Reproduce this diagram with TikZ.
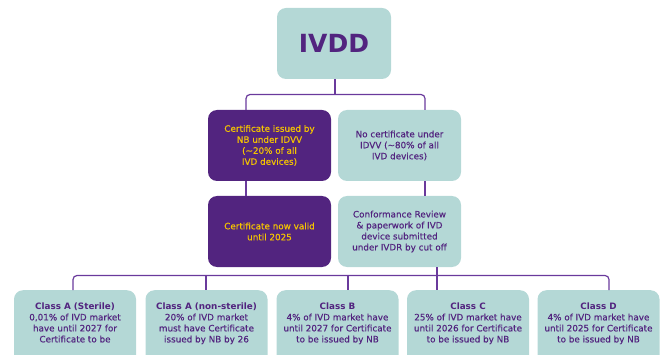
\documentclass[tikz,border=0pt]{standalone}
\usepackage{fontspec}
\setmainfont{DejaVu Sans}
\newfontfamily\heavier[FakeBold=0.35]{DejaVu Sans}
\definecolor{ppl}{HTML}{52247F}
\definecolor{teal}{HTML}{B4D8D6}
\definecolor{gold}{HTML}{F5C400}
\definecolor{lnc}{HTML}{6A3A9C}
\begin{document}
\begin{tikzpicture}[x=1pt,y=-1pt,
  box/.style={rounded corners=9pt, minimum width=123pt, minimum height=71pt, inner sep=2pt, align=center,
    font=\heavier\fontsize{8.8}{11}\selectfont},
  pbox/.style={box, fill=ppl, text=gold},
  tbox/.style={box, fill=teal, text=ppl},
  cbox/.style={rounded corners=9pt, fill=teal, text=ppl, inner xsep=1pt, inner ysep=12.5pt, anchor=north,
    font=\heavier\fontsize{8.8}{11}\selectfont},
  conn/.style={draw=lnc, line width=1.2pt}]
\useasboundingbox (0,0) rectangle (663,355);
\clip (0,0) rectangle (663,355);

\node[tbox, minimum width=114pt, font=\fontsize{25}{30}\selectfont\bfseries] (ivdd) at (334,43.5) {IVDD};

\node[pbox] (n1) at (269.5,145.5) {Certificate issued by\\NB under IDVV\\(\textasciitilde20\% of all\\IVD devices)};
\node[tbox] (n2) at (399.5,145.5) {No certificate under\\IDVV (\textasciitilde80\% of all\\IVD devices)};
\node[pbox] (n3) at (269.5,231.5) {Certificate now valid\\until 2025};
\node[tbox] (n4) at (399.5,231.5) {Conformance Review\\\& paperwork of IVD\\device submitted\\under IVDR by cut off};

\newcommand{\cbtext}[4]{\parbox[c][62pt][t]{120pt}{\centering{\fontspec{DejaVu Sans Bold}#1}\\#2\\#3\\#4}}
\node[cbox] (c1) at (75,290) {\cbtext{Class A (Sterile)}{0,01\% of IVD market}{have until 2027 for}{Certificate to be}};
\node[cbox] (c2) at (206.5,290) {\cbtext{Class A (non-sterile)}{20\% of IVD market}{must have Certificate}{issued by NB by 26}};
\node[cbox] (c3) at (337.5,290) {\cbtext{Class B}{4\% of IVD market have}{until 2027 for Certificate}{to be issued by NB}};
\node[cbox] (c4) at (468,290) {\cbtext{Class C}{25\% of IVD market have}{until 2026 for Certificate}{to be issued by NB}};
\node[cbox] (c5) at (598.5,290) {\cbtext{Class D}{4\% of IVD market have}{until 2025 for Certificate}{to be issued by NB}};

% top connectors
\coordinate (t0) at (335,94.5);
\coordinate (t1) at (246,94.5);
\coordinate (t2) at (425,94.5);
\draw[conn] (ivdd.south -| t0) -- (t0);
\draw[conn, rounded corners=4pt] (n1.north -| t1) -- (t1) -- (t2) -- (n2.north -| t2);
\draw[conn] (n1.south -| t1) -- (n3.north -| t1);
\draw[conn] (n2.south -| t2) -- (n4.north -| t2);

% bottom connectors
\coordinate (b0) at (437,275.5);
\coordinate (j1) at (73,275.5);
\coordinate (j2) at (206,275.5);
\coordinate (j3) at (348,275.5);
\coordinate (j5) at (609,275.5);
\draw[conn] (n4.south -| b0) -- (b0);
\draw[conn, rounded corners=4pt] (c1.north -| j1) -- (j1) -- (j5) -- (c5.north -| j5);
\draw[conn] (j2) -- (c2.north -| j2);
\draw[conn] (j3) -- (c3.north -| j3);
\draw[conn] (b0) -- (c4.north -| b0);
\end{tikzpicture}
\end{document}
